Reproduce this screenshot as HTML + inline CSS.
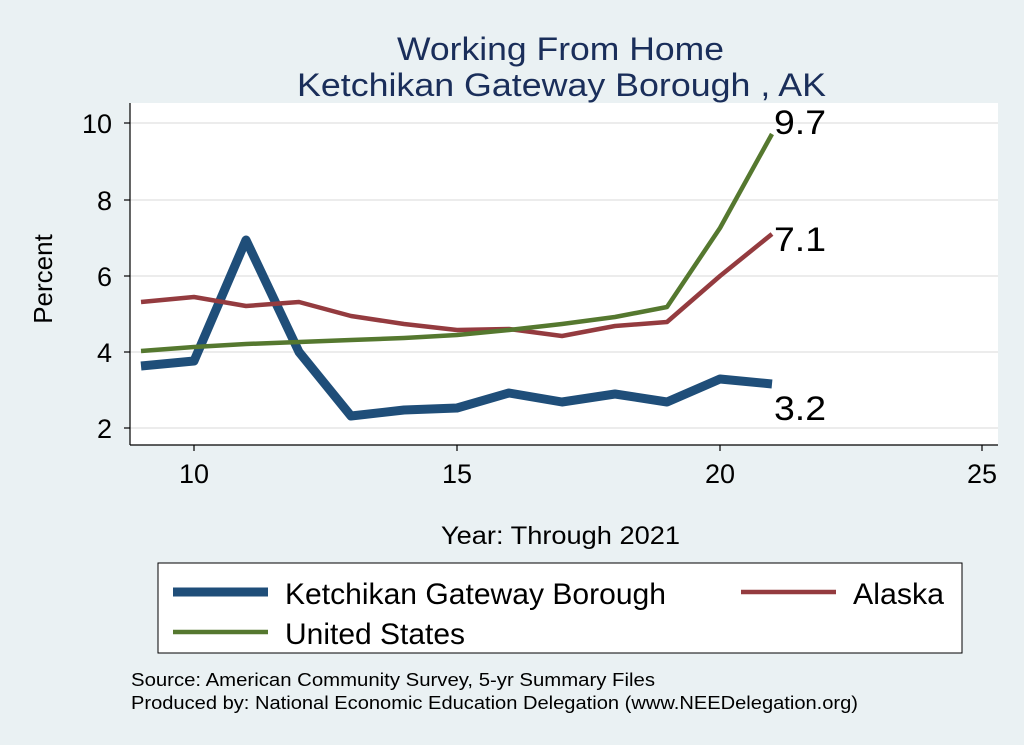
<!DOCTYPE html>
<html><head><meta charset="utf-8"><style>
body{margin:0;background:#eaf1f3;}
svg{display:block;font-family:"Liberation Sans",sans-serif;}
</style></head><body>
<svg width="1024" height="745" viewBox="0 0 1024 745">
<rect width="1024" height="745" fill="#eaf1f3"/>
<text x="397" y="60" font-size="32" fill="#1a2e5a" textLength="327" lengthAdjust="spacingAndGlyphs">Working From Home</text>
<text x="297" y="96" font-size="32" fill="#1a2e5a" textLength="529" lengthAdjust="spacingAndGlyphs">Ketchikan Gateway Borough , AK</text>
<rect x="130" y="103" width="868" height="342" fill="#fff"/>
<g stroke="#e6e6e6" stroke-width="1.5">
<line x1="130" x2="998" y1="123" y2="123"/><line x1="130" x2="998" y1="200" y2="200"/>
<line x1="130" x2="998" y1="276" y2="276"/><line x1="130" x2="998" y1="352" y2="352"/>
<line x1="130" x2="998" y1="428" y2="428"/>
</g>
<g stroke="#000" stroke-width="1.2">
<line x1="130" y1="103" x2="130" y2="445"/><line x1="130" y1="445" x2="998" y2="445"/>
<line x1="124" x2="130" y1="123" y2="123"/><line x1="124" x2="130" y1="200" y2="200"/>
<line x1="124" x2="130" y1="276" y2="276"/><line x1="124" x2="130" y1="352" y2="352"/>
<line x1="124" x2="130" y1="428" y2="428"/>
<line x1="194" x2="194" y1="445" y2="451"/><line x1="457" x2="457" y1="445" y2="451"/>
<line x1="720" x2="720" y1="445" y2="451"/><line x1="982" x2="982" y1="445" y2="451"/>
</g>
<g font-size="27" fill="#000" text-anchor="end">
<text x="112" y="133">10</text><text x="112" y="210">8</text><text x="112" y="286">6</text>
<text x="112" y="362">4</text><text x="112" y="438">2</text>
</g>
<g font-size="27" fill="#000" text-anchor="middle">
<text x="194" y="483">10</text><text x="457" y="483">15</text><text x="720" y="483">20</text><text x="982" y="483">25</text>
</g>
<text transform="translate(52,279) rotate(-90)" font-size="26" text-anchor="middle">Percent</text>
<text x="441" y="544" font-size="25" textLength="239" lengthAdjust="spacingAndGlyphs">Year: Through 2021</text>
<polyline fill="none" stroke="#1f4e79" stroke-width="9" stroke-linejoin="round" points="141,366 194,361 246,240 299,352 351,416 404,410 457,408 509,393 562,402 615,394 667,402 720,379 772,384"/>
<polyline fill="none" stroke="#943b3f" stroke-width="4.5" stroke-linejoin="round" points="141,302 194,297 246,306 299,302 351,316 404,324 457,330 509,329 562,336 615,326 667,322 720,276 772,234"/>
<polyline fill="none" stroke="#55782f" stroke-width="4.5" stroke-linejoin="round" points="141,351 194,347 246,344 299,342 351,340 404,338 457,335 509,330 562,324 615,317 667,307 720,228 772,134"/>
<g font-size="34" fill="#000">
<text x="774" y="134" textLength="52" lengthAdjust="spacingAndGlyphs">9.7</text>
<text x="774" y="251" textLength="52" lengthAdjust="spacingAndGlyphs">7.1</text>
<text x="774" y="420" textLength="52" lengthAdjust="spacingAndGlyphs">3.2</text>
</g>
<rect x="158" y="563" width="804" height="90" fill="#fff" stroke="#000" stroke-width="1"/>
<line x1="173" x2="268" y1="592" y2="592" stroke="#1f4e79" stroke-width="9"/>
<text x="285" y="604" font-size="30" textLength="381" lengthAdjust="spacingAndGlyphs">Ketchikan Gateway Borough</text>
<line x1="741" x2="836" y1="592" y2="592" stroke="#943b3f" stroke-width="4.5"/>
<text x="853" y="604" font-size="30" textLength="91" lengthAdjust="spacingAndGlyphs">Alaska</text>
<line x1="173" x2="268" y1="632" y2="632" stroke="#55782f" stroke-width="4.5"/>
<text x="285" y="644" font-size="30" textLength="180" lengthAdjust="spacingAndGlyphs">United States</text>
<text x="131" y="686" font-size="18" textLength="524" lengthAdjust="spacingAndGlyphs">Source: American Community Survey, 5-yr Summary Files</text>
<text x="131" y="709" font-size="18" textLength="727" lengthAdjust="spacingAndGlyphs">Produced by: National Economic Education Delegation (www.NEEDelegation.org)</text>
</svg>
</body></html>
